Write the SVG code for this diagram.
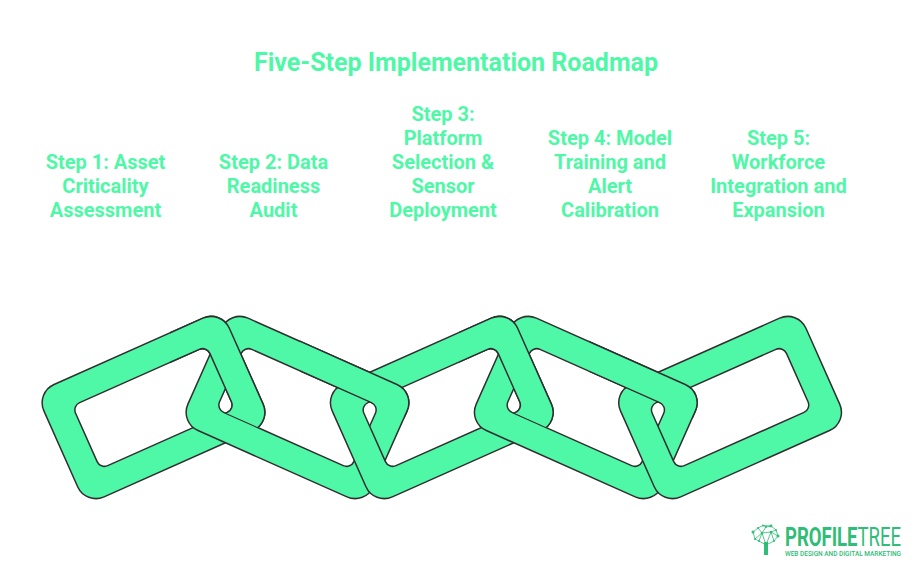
<svg xmlns="http://www.w3.org/2000/svg" width="924" height="576" viewBox="0 0 924 576">
<style>
.t{font-family:"Roboto","Liberation Sans",sans-serif;font-weight:700;fill:#4ff8a7;text-anchor:middle}
.title{font-size:25px}
.lab{font-size:20px}
.lk{fill:#4ff8a7;fill-rule:evenodd;stroke:#2f2f2f;stroke-width:1.5;stroke-linejoin:round}
.lg{fill:#2fbd77}
.ll{stroke:#2fbd77;stroke-width:.8;fill:none}
</style>
<defs>
<path id="link" class="lk" d="M-81.500-61.500H81.500A20 20 0 0 1 101.500-41.500V41.500A20 20 0 0 1 81.500 61.500H-81.500A20 20 0 0 1-101.500 41.500V-41.500A20 20 0 0 1-81.500-61.500ZM-65.500-34.500A8 8 0 0 0-73.500-26.500V26.500A8 8 0 0 0-65.500 34.500H65.500A8 8 0 0 0 73.500 26.500V-26.500A8 8 0 0 0 65.500-34.500Z"/>
<clipPath id="c1"><polygon points="170,300 290,300 290,441.400 170,388"/></clipPath>
<clipPath id="c2"><polygon points="300,300 420,300 420,425.300 300,371.900"/></clipPath>
</defs>
<rect width="924" height="576" fill="#fff"/>
<text class="t title" x="456" y="71">Five-Step Implementation Roadmap</text>
<g id="step-1"><text class="t lab" x="105.500" y="169">Step 1: Asset</text><text class="t lab" x="105.500" y="193">Criticality</text><text class="t lab" x="105.500" y="217">Assessment</text>
<use href="#link" transform="translate(153.500 407.500) rotate(-24)"/></g>
<g id="step-2"><text class="t lab" x="273.500" y="169">Step 2: Data</text><text class="t lab" x="273.500" y="193">Readiness</text><text class="t lab" x="273.500" y="217">Audit</text>
<use href="#link" transform="translate(297.500 407.500) rotate(24)"/></g>
<g id="step-3"><text class="t lab" x="443" y="121">Step 3:</text><text class="t lab" x="443" y="145">Platform</text><text class="t lab" x="443" y="169">Selection &amp;</text><text class="t lab" x="443" y="193">Sensor</text><text class="t lab" x="443" y="217">Deployment</text>
<use href="#link" transform="translate(441.800 407.500) rotate(-24)"/></g>
<g id="step-4"><text class="t lab" x="610" y="145">Step 4: Model</text><text class="t lab" x="610" y="169">Training and</text><text class="t lab" x="610" y="193">Alert</text><text class="t lab" x="610" y="217">Calibration</text>
<use href="#link" transform="translate(585.800 407.500) rotate(24)"/></g>
<g id="step-5"><text class="t lab" x="778.500" y="145">Step 5:</text><text class="t lab" x="778.500" y="169">Workforce</text><text class="t lab" x="778.500" y="193">Integration and</text><text class="t lab" x="778.500" y="217">Expansion</text>
<use href="#link" transform="translate(730.100 407.500) rotate(-24)"/></g>
<g id="weave">
<g clip-path="url(#c1)"><use href="#link" transform="translate(153.500 407.500) rotate(-24)"/></g>
<g clip-path="url(#c2)"><use href="#link" transform="translate(297.500 407.500) rotate(24)"/></g>
<g transform="translate(288.300 0)"><g clip-path="url(#c1)"><use href="#link" transform="translate(153.500 407.500) rotate(-24)"/></g>
<g clip-path="url(#c2)"><use href="#link" transform="translate(297.500 407.500) rotate(24)"/></g></g>
</g>
<g id="logo">
<path class="lg" d="M764 542h4v13h-4z"/>
<path class="ll" d="M753 532L758 528L763 525.500L771 526L776 530L778 536L774 541L766 545L759 541L755 539L753 532M758 528L762 533L766 527L771 526M762 533L771 532L776 530M762 533L759 541M771 532L774 541M771 532L766 545M762 533L766 545M755 539L762 533M778 536L771 532M763 525.500L766 527"/>
<g class="lg"><circle cx="753" cy="532" r="1.500"/><circle cx="758" cy="528" r="1"/><circle cx="763" cy="525.500" r="1"/><circle cx="771" cy="526" r="1.400"/><circle cx="776" cy="530" r="1"/><circle cx="778" cy="536" r="1.500"/><circle cx="774" cy="541" r="1"/><circle cx="759" cy="541" r="1"/><circle cx="755" cy="539" r="1"/><circle cx="762" cy="533" r="1.300"/><circle cx="771" cy="532" r="1.300"/><circle cx="766" cy="527" r="1"/></g>
<text class="lg" x="785" y="546" font-family="Roboto,'Liberation Sans',sans-serif" font-size="26" font-weight="700" textLength="116" lengthAdjust="spacingAndGlyphs">PROFILE<tspan font-weight="400">TREE</tspan></text>
<text class="lg" x="785" y="555.500" font-family="Roboto,'Liberation Sans',sans-serif" font-size="7" font-weight="500" textLength="116" lengthAdjust="spacingAndGlyphs">WEB DESIGN AND DIGITAL MARKETING</text>
</g>
</svg>
